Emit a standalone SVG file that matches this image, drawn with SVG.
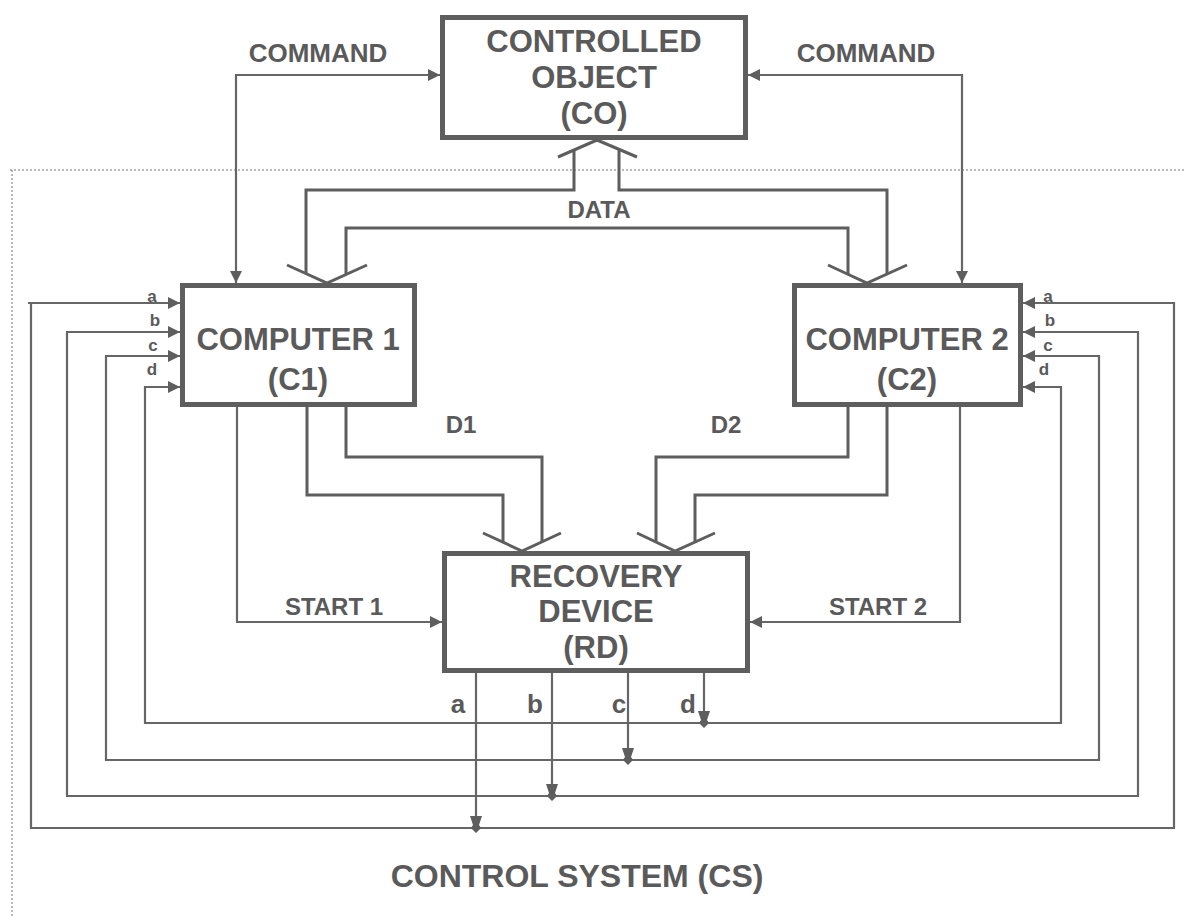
<svg xmlns="http://www.w3.org/2000/svg" width="1185" height="918" viewBox="0 0 1185 918">
<style>
.box{fill:#fff;stroke:#5e5e5e;stroke-width:5}
.ln{fill:none;stroke:#666;stroke-width:2.2}
.bd{fill:none;stroke:#5e5e5e;stroke-width:3}
.bound{fill:none;stroke:#777;stroke-width:1;stroke-dasharray:2,2}
text{font-family:"Liberation Sans",Arial,sans-serif;font-weight:bold;fill:#5a5a5a;text-anchor:middle}
.big{font-size:31px}
.mid{font-size:24px}
.cmd{font-size:26px}
.sm{font-size:17px}
.out{font-size:26px}
.cs{font-size:32px}
</style>
<defs>
<marker id="arr" viewBox="0 0 12 12" refX="12" refY="6" markerWidth="12" markerHeight="12" markerUnits="userSpaceOnUse" orient="auto-start-reverse">
<path d="M0,0 L12,6 L0,12 z" fill="#5e5e5e"/>
</marker>
<path id="dia" d="M-6,-12 L6,-12 L3,-3 L5,0 L0,5 L-5,0 L-3,-3 z" fill="#5e5e5e"/>
</defs>
<rect width="1185" height="918" fill="#fff"/>
<g id="boundary">
<path class="bound" d="M10,170 H1185 M12,170 V918"/>
</g>
<g id="connectors">
<path class="ln" d="M236,283 V75 H440" marker-start="url(#arr)" marker-end="url(#arr)"/>
<path class="ln" d="M962,283 V75 H748" marker-start="url(#arr)" marker-end="url(#arr)"/>
<path class="ln" d="M180,303 H28 M31,303 V828 H1174 V303 H1023" marker-end="url(#arr)"/>
<path class="ln" d="M31,303 H180" marker-end="url(#arr)"/>
<path class="ln" d="M180,332 H67 V796 H1138 V332 H1023" marker-start="url(#arr)" marker-end="url(#arr)"/>
<path class="ln" d="M180,356 H106 V760 H1099 V356 H1023" marker-start="url(#arr)" marker-end="url(#arr)"/>
<path class="ln" d="M180,387 H145 V723 H1061 V387 H1023" marker-start="url(#arr)" marker-end="url(#arr)"/>
<path class="ln" d="M476,673 V823 M552,673 V791 M628,673 V755 M704,673 V718"/>
<use href="#dia" x="476" y="828"/>
<use href="#dia" x="552" y="796"/>
<use href="#dia" x="628" y="760"/>
<use href="#dia" x="704" y="723"/>
<path class="ln" d="M237,407 V622 H442" marker-end="url(#arr)"/>
<path class="ln" d="M960,407 V622 H750" marker-end="url(#arr)"/>
<path class="bd" d="M306,274 V190 H574 V150"/>
<path class="bd" d="M619,149 V190 H887 V274"/>
<path class="bd" d="M346,274 V228 H848 V274"/>
<path class="bd" d="M307,407 V495 H503 V542"/>
<path class="bd" d="M346,407 V457 H542 V542"/>
<path class="bd" d="M848,407 V457 H656 V542"/>
<path class="bd" d="M887,407 V495 H695 V542"/>
<path class="bd" d="M558,157 L597,140 L637,157"/>
<path class="bd" d="M287,265 L327,283 L367,265"/>
<path class="bd" d="M828,265 L867,283 L907,265"/>
<path class="bd" d="M483,533 L522,551 L561,533"/>
<path class="bd" d="M637,533 L675,551 L715,533"/>
</g>
<g id="CO">
<rect class="box" x="442.5" y="17.5" width="303" height="120"/>
<text class="big" x="594" y="52">CONTROLLED</text>
<text class="big" x="594" y="88">OBJECT</text>
<text class="big" x="594" y="124">(CO)</text>
</g>
<g id="C1">
<rect class="box" x="182.5" y="285.5" width="232" height="119"/>
<text class="big" x="298" y="350">COMPUTER 1</text>
<text class="big" x="298" y="390">(C1)</text>
</g>
<g id="C2">
<rect class="box" x="794.5" y="285.5" width="226" height="119"/>
<text class="big" x="907" y="350">COMPUTER 2</text>
<text class="big" x="907" y="390">(C2)</text>
</g>
<g id="RD">
<rect class="box" x="444.5" y="553.5" width="303" height="117"/>
<text class="big" x="596" y="587">RECOVERY</text>
<text class="big" x="596" y="622">DEVICE</text>
<text class="big" x="596" y="658">(RD)</text>
</g>
<g id="labels">
<text class="cmd" x="318" y="62">COMMAND</text>
<text class="cmd" x="866" y="62">COMMAND</text>
<text class="mid" x="599" y="218">DATA</text>
<text class="mid" x="461" y="433">D1</text>
<text class="mid" x="726" y="433">D2</text>
<text class="mid" x="334" y="615">START 1</text>
<text class="mid" x="878" y="615">START 2</text>
<text class="sm" x="152" y="302">a</text>
<text class="sm" x="155" y="326">b</text>
<text class="sm" x="153" y="351">c</text>
<text class="sm" x="152" y="375">d</text>
<text class="sm" x="1048" y="302">a</text>
<text class="sm" x="1050" y="326">b</text>
<text class="sm" x="1048" y="351">c</text>
<text class="sm" x="1044" y="375">d</text>
<text class="out" x="458" y="713">a</text>
<text class="out" x="535" y="713">b</text>
<text class="out" x="619" y="713">c</text>
<text class="out" x="688" y="713">d</text>
<text class="cs" x="577" y="887">CONTROL SYSTEM (CS)</text>
</g>
</svg>
